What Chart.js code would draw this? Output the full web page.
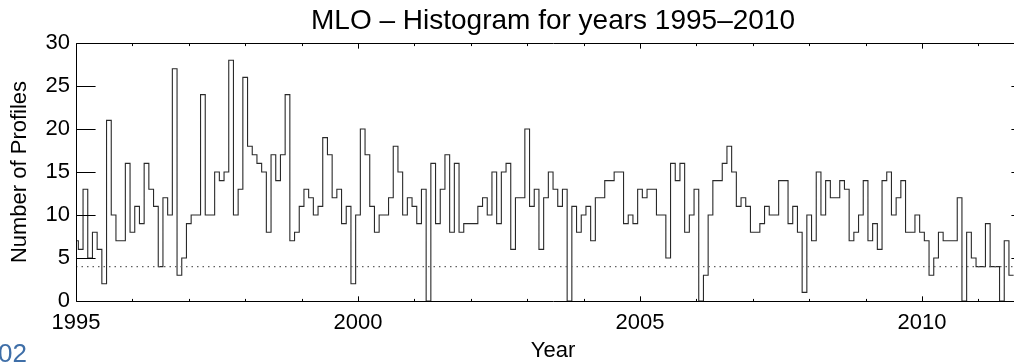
<!DOCTYPE html>
<html><head><meta charset="utf-8">
<script src="https://cdn.jsdelivr.net/npm/chart.js@4.4.1/dist/chart.umd.min.js"></script>
<style>
html,body{margin:0;padding:0;background:#fff;overflow:hidden;width:1014px;height:363px;}
#wrap{position:relative;width:1014px;height:363px;overflow:hidden;}
canvas{position:absolute;left:0;top:0;}
#pg{position:absolute;left:-2px;top:340px;font:26px "Liberation Sans",Arial,sans-serif;line-height:1;color:#3f6fa8;}
</style></head><body>
<div id="wrap"><canvas id="c" width="1040" height="363"></canvas><div id="pg">02</div></div>
<script>
const startYear = 1995;
const xMax = 2011.915;
const profiles = [
  7, 6, 13, 5, 8, 6, 2, 21, 10, 7, 7, 16,
  8, 11, 9, 16, 13, 11, 4, 12, 10, 27, 3, 5,
  9, 10, 10, 24, 10, 10, 15, 14, 15, 28, 10, 13,
  26, 18, 17, 16, 15, 8, 17, 14, 17, 24, 7, 8,
  11, 13, 12, 10, 11, 19, 17, 12, 13, 9, 11, 2,
  10, 20, 17, 11, 8, 10, 10, 12, 18, 15, 10, 12,
  11, 9, 13, 0, 16, 9, 13, 17, 8, 16, 8, 9,
  9, 9, 11, 12, 10, 15, 9, 15, 16, 6, 12, 12,
  20, 11, 13, 6, 12, 15, 13, 11, 13, 0, 11, 8,
  10, 11, 7, 12, 12, 14, 14, 15, 15, 9, 10, 9,
  13, 12, 13, 13, 10, 10, 5, 16, 14, 16, 8, 10,
  13, 0, 3, 10, 14, 14, 16, 18, 15, 11, 12, 11,
  8, 8, 9, 11, 10, 10, 14, 14, 9, 11, 8, 1,
  10, 7, 15, 10, 14, 12, 12, 14, 13, 7, 8, 10,
  14, 7, 9, 6, 14, 15, 10, 12, 14, 8, 8, 10,
  8, 7, 3, 5, 8, 7, 7, 7, 12, 0, 8, 5,
  4, 4, 9, 4, 4, 0, 7, 3
];
const yTickValues = [0, 5, 10, 15, 20, 25, 30];
const xTickYears = [1995,1996,1997,1998,1999,2000,2001,2002,2003,2004,2005,2006,2007,2008,2009,2010,2011];
const xLabelYears = [1995, 2000, 2005, 2010];
const thresholdLevel = 4;
const titleText = 'MLO \u2013 Histogram for years 1995\u20132010';
const xTitle = 'Year';
const yTitle = 'Number of Profiles';

const FAMILY = '"Liberation Sans", Arial, Helvetica, sans-serif';
Chart.defaults.font.family = FAMILY;
Chart.defaults.color = '#000';

const stepPoints = profiles.map((v, i) => ({x: startYear + i / 12, y: v}));
const lastIdx = profiles.length - 1;
stepPoints.push({x: startYear + (lastIdx + 0.5) / 12, y: profiles[lastIdx]});

const boxPlugin = {
  id: 'idlBox',
  afterDatasetsDraw(chart) {
    const {ctx, chartArea: a, scales: {x, y}} = chart;
    ctx.save();
    ctx.strokeStyle = '#000';
    ctx.lineWidth = 1;
    const L = Math.round(a.left) + 0.5, R = Math.round(a.right) + 0.5;
    const T = Math.round(a.top) + 0.5, B = Math.round(a.bottom) + 0.5;
    ctx.beginPath();
    ctx.rect(L, T, R - L, B - T);
    const yLen = (a.right - a.left) * 0.02;
    const xLen = (a.bottom - a.top) * 0.02;
    yTickValues.forEach(v => {
      const py = Math.round(y.getPixelForValue(v)) + 0.5;
      ctx.moveTo(L, py); ctx.lineTo(L + yLen, py);
      ctx.moveTo(R, py); ctx.lineTo(R - yLen, py);
    });
    xTickYears.forEach(v => {
      const px = Math.round(x.getPixelForValue(v)) + 0.5;
      const len = xLabelYears.includes(v) ? xLen : xLen / 2;
      ctx.moveTo(px, B); ctx.lineTo(px, B - len);
      ctx.moveTo(px, T); ctx.lineTo(px, T + len);
    });
    ctx.stroke();
    ctx.restore();
  }
};

new Chart(document.getElementById('c'), {
  type: 'line',
  data: {
    datasets: [
      {
        data: [{x: startYear, y: thresholdLevel}, {x: xMax, y: thresholdLevel}],
        borderColor: '#606060', borderWidth: 1.4, borderDash: [1.5, 4],
        pointRadius: 0, fill: false
      },
      {
        data: stepPoints,
        stepped: 'middle',
        borderColor: '#2a2a2a', borderWidth: 1.1,
        pointRadius: 0, fill: false
      }
    ]
  },
  options: {
    responsive: false,
    animation: false,
    devicePixelRatio: 1,
    events: [],
    layout: {padding: {left: 0, right: 10, top: 0, bottom: 0}},
    plugins: {
      legend: {display: false},
      tooltip: {enabled: false},
      title: {
        display: true, text: titleText, fullSize: false, color: '#000',
        font: {family: FAMILY, size: 28, weight: 'normal'},
        padding: {top: 4, bottom: 5.4}
      }
    },
    scales: {
      x: {
        type: 'linear', min: startYear, max: xMax,
        grid: {display: false, drawTicks: false},
        border: {display: false},
        afterBuildTicks: s => { s.ticks = xTickYears.map(v => ({value: v})); },
        afterFit: s => { s.height = 62; },
        ticks: {
          autoSkip: false, maxRotation: 0, padding: 9, color: '#000',
          font: {family: FAMILY, size: 22},
          callback: v => xLabelYears.includes(v) ? String(v) : ''
        },
        title: {display: true, text: xTitle, color: '#000', font: {family: FAMILY, size: 22}, padding: {top: 0, bottom: -1}}
      },
      y: {
        type: 'linear', min: 0, max: 30,
        grid: {display: false, drawTicks: false},
        border: {display: false},
        afterBuildTicks: s => { s.ticks = yTickValues.map(v => ({value: v})); },
        afterFit: s => { s.width = 76; },
        ticks: {padding: 6, color: '#000', font: {family: FAMILY, size: 22}},
        title: {display: true, text: yTitle, color: '#000', font: {family: FAMILY, size: 22}, padding: {top: 7, bottom: 0}}
      }
    }
  },
  plugins: [boxPlugin]
});
</script>
</body></html>
